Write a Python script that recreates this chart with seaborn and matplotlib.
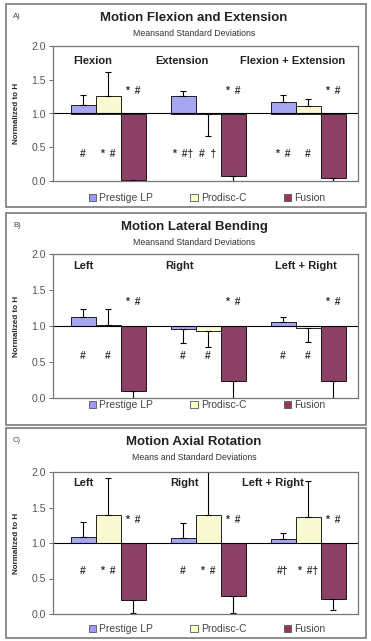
import matplotlib
matplotlib.use("Agg")
import matplotlib.pyplot as plt
from matplotlib.patches import Rectangle, Patch
import pandas as pd
import seaborn as sns

devices = ["Prestige LP", "Prodisc-C", "Fusion"]
colors = ["#9999ff", "#ffffcc", "#993366"]

# A) flexion / extension
a_groups = ["Flexion", "Extension", "Flexion + Extension"]
a_prestige = [1.13, 1.26, 1.17]
a_prestige_end = [1.28, 1.33, 1.27]
a_prodisc = [1.26, 0.99, 1.11]
a_prodisc_end = [1.61, 0.67, 1.21]
a_fusion = [0.02, 0.07, 0.05]
a_fusion_end = [0.01, 0.0, 0.0]
a_sig_prestige = ["#", "* #\u2020", "* #"]
a_sig_prodisc = ["* #", "# \u2020", "#"]
a_sig_fusion = ["* #", "* #", "* #"]

# B) lateral bending
b_groups = ["Left", "Right", "Left + Right"]
b_prestige = [1.12, 0.96, 1.05]
b_prestige_end = [1.24, 0.76, 1.12]
b_prodisc = [1.02, 0.93, 0.97]
b_prodisc_end = [1.23, 0.71, 0.78]
b_fusion = [0.10, 0.24, 0.23]
b_fusion_end = [-0.05, -0.05, -0.05]
b_sig_prestige = ["#", "#", "#"]
b_sig_prodisc = ["#", "#", "#"]
b_sig_fusion = ["* #", "* #", "* #"]

# C) axial rotation
c_groups = ["Left", "Right", "Left + Right"]
c_prestige = [1.09, 1.07, 1.06]
c_prestige_end = [1.29, 1.28, 1.14]
c_prodisc = [1.39, 1.39, 1.37]
c_prodisc_end = [1.91, 2.10, 1.88]
c_fusion = [0.20, 0.25, 0.21]
c_fusion_end = [0.01, 0.02, 0.06]
c_sig_prestige = ["#", "#", "#\u2020"]
c_sig_prodisc = ["* #", "* #", "* #\u2020"]
c_sig_fusion = ["* #", "* #", "* #"]

W, H = 371, 641
sns.set_style("white")
plt.rcParams["font.family"] = ["Liberation Sans", "DejaVu Sans"]

fig = plt.figure(figsize=(W / 100, H / 100), dpi=100)


def fx(px):
    return px / W


def fy(py):
    return 1 - py / H


def panel(box, plot, letter, title, subtitle, groups, means, ends, sigs,
          label_dx, label_y, legend_y):
    top, bottom = box
    fig.patches.append(Rectangle((fx(6), fy(bottom)), fx(360), (bottom - top) / H,
                                 transform=fig.transFigure, fill=False,
                                 edgecolor="#7a7a7a", linewidth=1.2))
    y0, y1 = plot
    ax = fig.add_axes([fx(53), fy(y1), fx(305), (y1 - y0) / H])

    df = pd.DataFrame({
        "group": groups * 3,
        "device": [d for d in devices for _ in groups],
        "value": [v for m in means for v in m],
    })
    df["delta"] = df["value"] - 1.0
    sns.barplot(data=df, x="group", y="delta", hue="device", order=groups,
                hue_order=devices, palette=colors, bottom=1.0, width=0.75,
                edgecolor="black", linewidth=0.6, errorbar=None, legend=False,
                ax=ax)

    bar_sets = list(ax.containers)
    for i, cont in enumerate(bar_sets):
        for j, bar in enumerate(cont):
            xc = bar.get_x() + bar.get_width() / 2
            m = means[i][j]
            e = ends[i][j]
            yerr = [[max(m - e, 0)], [max(e - m, 0)]]
            ax.errorbar(xc, m, yerr=yerr, fmt="none", ecolor="black",
                        elinewidth=0.8, capsize=2.2, capthick=0.8)
            ty = 1.33 if i == 2 else label_y[1]
            ax.text(xc, ty, sigs[i][j].replace(" ", "  "), ha="center",
                    va="center", fontsize=7.5, fontweight="bold",
                    color="#333333")

    for j, g in enumerate(groups):
        ax.text(j + label_dx[j], label_y[0], g, ha="center", va="center",
                fontsize=8, fontweight="bold", color="#222222")

    ax.axhline(1.0, color="black", linewidth=0.8)
    ax.set_xlim(-0.55, 2.5)
    ax.set_ylim(0, 2)
    ax.set_yticks([0, 0.5, 1.0, 1.5, 2.0])
    ax.set_yticklabels(["0.0", "0.5", "1.0", "1.5", "2.0"], fontsize=7.5,
                       color="#555555")
    ax.tick_params(axis="y", length=3, width=0.6, left=True, pad=2,
                   color="#555555")
    ax.set_xticks([])
    ax.set_xlabel("")
    ax.set_ylabel("")
    for s in ax.spines.values():
        s.set_color("#777777")
        s.set_linewidth(0.9)

    fig.text(fx(13), fy(top + 13), letter, fontsize=5.5, color="#444444",
             va="center")
    fig.text(fx(194), fy(top + 14), title, fontsize=9.5, fontweight="bold",
             ha="center", va="center", color="#222222")
    fig.text(fx(194), fy(top + 29), subtitle, fontsize=6.3, ha="center",
             va="center", color="#333333")
    fig.text(fx(17), fy((y0 + y1) / 2), "Normalized to H", rotation=90,
             fontsize=5.8, fontweight="bold", ha="center", va="center")

    handles = [Patch(facecolor=c, edgecolor="#555555", linewidth=0.6)
               for c in colors]
    ax.legend(handles, devices, loc="center", ncol=3, frameon=False,
              bbox_to_anchor=(fx(207), fy(legend_y)),
              bbox_transform=fig.transFigure, fontsize=7.5,
              handlelength=0.7, handleheight=0.7, handletextpad=0.3,
              columnspacing=3.6, labelcolor="#444444")
    return ax


panel((4, 207), (46, 181), "A)", "Motion Flexion and Extension",
      "Meansand Standard Deviations", a_groups,
      [a_prestige, a_prodisc, a_fusion],
      [a_prestige_end, a_prodisc_end, a_fusion_end],
      [a_sig_prestige, a_sig_prodisc, a_sig_fusion],
      [-0.15, -0.26, -0.15], (1.78, 0.40), 198)

panel((213, 425), (254, 398), "B)", "Motion Lateral Bending",
      "Meansand Standard Deviations", b_groups,
      [b_prestige, b_prodisc, b_fusion],
      [b_prestige_end, b_prodisc_end, b_fusion_end],
      [b_sig_prestige, b_sig_prodisc, b_sig_fusion],
      [-0.25, -0.28, -0.02], (1.83, 0.59), 405)

panel((428, 638), (472, 614), "C)", "Motion Axial Rotation",
      "Means and Standard Deviations", c_groups,
      [c_prestige, c_prodisc, c_fusion],
      [c_prestige_end, c_prodisc_end, c_fusion_end],
      [c_sig_prestige, c_sig_prodisc, c_sig_fusion],
      [-0.25, -0.23, -0.35], (1.84, 0.60), 629)

fig.savefig("out.png", dpi=100)
